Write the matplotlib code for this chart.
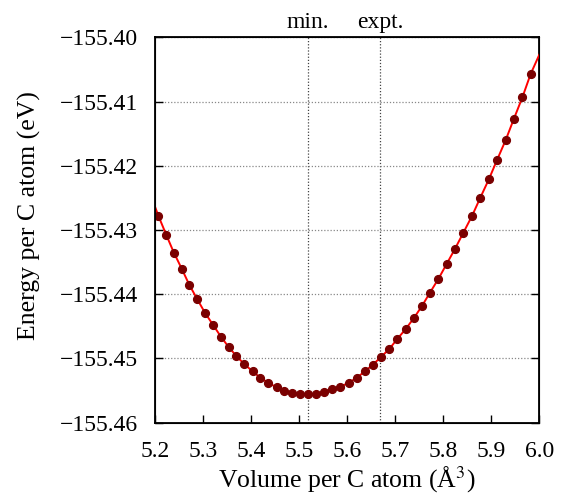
import numpy as np
import matplotlib
matplotlib.use('Agg')
import matplotlib.pyplot as plt
from matplotlib.ticker import FuncFormatter

# data
volume = [5.207, 5.223, 5.239, 5.256, 5.271, 5.288, 5.304, 5.321, 5.337, 5.353,
          5.369, 5.386, 5.403, 5.419, 5.436, 5.453, 5.469, 5.486, 5.502, 5.519,
          5.536, 5.552, 5.569, 5.586, 5.603, 5.620, 5.637, 5.653, 5.670, 5.688,
          5.704, 5.722, 5.739, 5.756, 5.772, 5.790, 5.807, 5.824, 5.842, 5.860,
          5.877, 5.895, 5.912, 5.930, 5.947, 5.965, 5.982]
energy = [-155.4278, -155.4307, -155.4335, -155.4361, -155.4385, -155.4408,
          -155.4429, -155.4448, -155.4466, -155.4482, -155.4496, -155.4509,
          -155.4520, -155.4530, -155.4538, -155.4545, -155.4550, -155.4554,
          -155.4556, -155.4556, -155.4555, -155.4552, -155.4547, -155.4544,
          -155.4538, -155.4530, -155.4520, -155.4510, -155.4498, -155.4485,
          -155.4470, -155.4454, -155.4437, -155.4418, -155.4398, -155.4376,
          -155.4353, -155.4330, -155.4304, -155.4278, -155.4250, -155.4221,
          -155.4191, -155.4160, -155.4127, -155.4093, -155.4057]
# fitted curve end values at the axis limits
fit_ends_x = [5.2, 6.0]
fit_ends_y = [-155.4264, -155.4027]

v_min = 5.518
v_expt = 5.668
top_labels = ['min.', 'expt.']

plt.rcParams['font.family'] = ['Liberation Serif', 'DejaVu Serif']
plt.rcParams['mathtext.fontset'] = 'stix'

fig = plt.figure(figsize=(5.83, 4.99), dpi=100)
ax = fig.add_axes([0.266, 0.153, 0.659, 0.772])

line_x = [fit_ends_x[0]] + volume + [fit_ends_x[1]]
line_y = [fit_ends_y[0]] + energy + [fit_ends_y[1]]
ax.plot(line_x, line_y, color='red', lw=1.4, zorder=3)
ax.plot(volume, energy, 'o', color='#7a0000', ms=5.6, zorder=4)

for v in [v_min, v_expt]:
    ax.axvline(v, color='#444444', lw=0.9, ls=(0, (1, 1.5)), zorder=1)

ax.set_xlim(5.2, 6.0)
ax.set_ylim(-155.46, -155.40)
ax.set_xticks(np.arange(5.2, 6.01, 0.1))
ax.set_yticks(np.arange(-155.46, -155.399, 0.01))
ax.xaxis.set_major_formatter(FuncFormatter(lambda x, p: '%.1f' % x))
ax.yaxis.set_major_formatter(FuncFormatter(lambda y, p: ('%.2f' % y).replace('-', '\u2212')))
ax.yaxis.grid(True, color='#888888', lw=0.9, ls=(0, (1, 1.5)))
ax.tick_params(direction='in', length=6, width=1, labelsize=17, top=False, right=True)
ax.tick_params(axis='x', pad=13)
ax.tick_params(axis='y', pad=12)

for s in ax.spines.values():
    s.set_linewidth(1.3)

ax.set_xlabel('Volume per C atom (Å$^3$)', fontsize=18.5, labelpad=2)
ax.set_ylabel('Energy per C atom (eV)', fontsize=18.5)
ax.yaxis.set_label_coords(-0.297, 0.537)

ax2 = ax.twiny()
ax2.set_xlim(ax.get_xlim())
ax2.set_xticks([v_min, v_expt])
ax2.set_xticklabels(top_labels)
ax2.tick_params(length=0, labelsize=17, pad=3)

fig.savefig('out.png', dpi=100)
